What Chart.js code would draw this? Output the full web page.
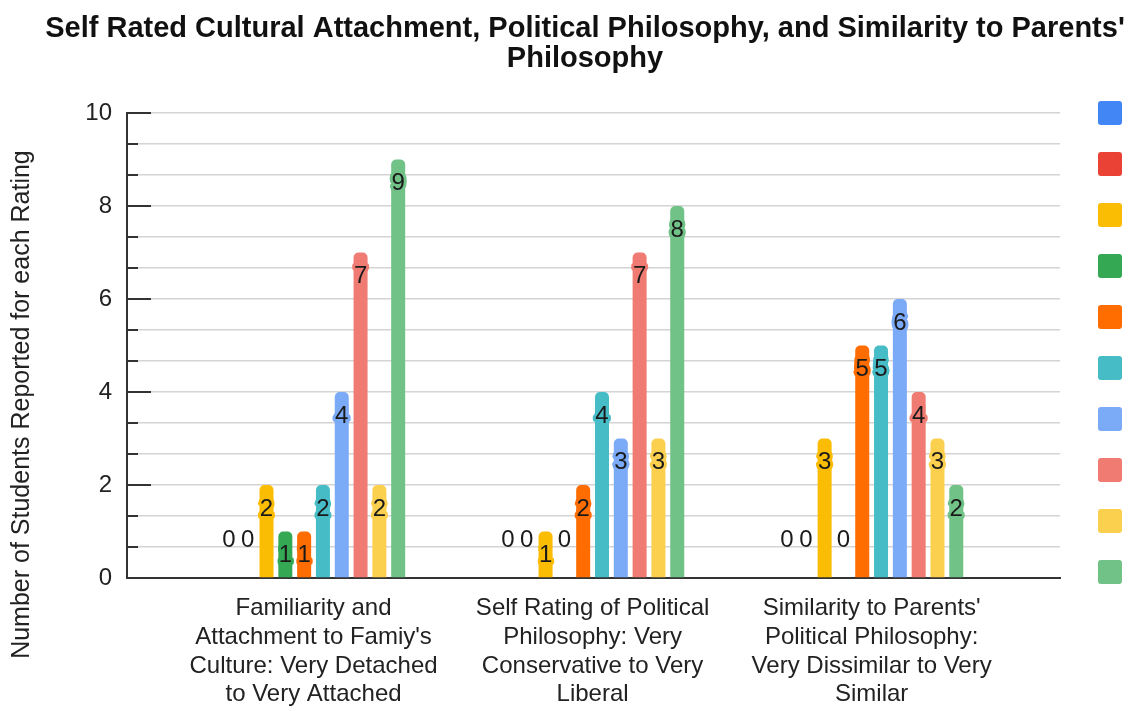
<!DOCTYPE html>
<html>
<head>
<meta charset="utf-8">
<script src="https://cdn.jsdelivr.net/npm/chart.js@4.4.1/dist/chart.umd.min.js"></script>
<style>
  html, body { margin: 0; padding: 0; background: #ffffff; }
  #wrap { width: 1143px; height: 711px; }
</style>
</head>
<body>
<div id="wrap"><canvas id="chart"></canvas></div>
<script>
// Survey questions (x-axis categories), each label split over four lines
const categories = [
  ["Familiarity and", "Attachment to Famiy's", "Culture: Very Detached", "to Very Attached"],
  ["Self Rating of Political", "Philosophy: Very", "Conservative to Very", "Liberal"],
  ["Similarity to Parents'", "Political Philosophy:", "Very Dissimilar to Very", "Similar"]
];

// Rating scale 1..10 (one series per rating)
const ratings = ["1", "2", "3", "4", "5", "6", "7", "8", "9", "10"];

// Number of students choosing each rating, per question
const cultureCounts   = [0, 0, 2, 1, 1, 2, 4, 7, 2, 9];
const politicalCounts = [0, 0, 1, 0, 2, 4, 3, 7, 3, 8];
const parentsCounts   = [0, 0, 3, 0, 5, 5, 6, 4, 3, 2];

const ratingColors = [
  "#4285F4", "#EA4335", "#FBBC04", "#34A853", "#FF6D01",
  "#46BDC6", "#7BAAF7", "#F07B72", "#FCD04F", "#71C287"
];

// Y axis: 0..10, labelled every 2, with two minor divisions in between
const yMin = 0;
const yMax = 10;
const yLabelStep = 2;
const yMinorPerLabel = 3;
const yTitle = 'Number of Students Reported for each Rating';

const FONT = 'Arial, "Liberation Sans", sans-serif';
const countsByQuestion = [cultureCounts, politicalCounts, parentsCounts];

const datasets = ratings.map((r, k) => ({
  label: r,
  data: countsByQuestion.map((counts, i) => ({ x: i, y: counts[k] })),
  backgroundColor: ratingColors[k],
  borderWidth: 0,
  borderRadius: 5,
  borderSkipped: 'start',
  categoryPercentage: 0.674,
  barPercentage: 0.745
}));

function isLabelTick(v) {
  const r = Math.round(v);
  return Math.abs(v - r) < 1e-6 && r % yLabelStep === 0;
}

// Short dark tick marks drawn inward from the value axis
const innerTicks = {
  id: 'innerTicks',
  beforeDatasetsDraw(chart) {
    const s = chart.scales.y;
    const left = chart.chartArea.left;
    const ctx = chart.ctx;
    ctx.save();
    ctx.strokeStyle = '#333333';
    ctx.lineWidth = 2;
    s.ticks.forEach(t => {
      const y = Math.round(s.getPixelForValue(t.value));
      const len = isLabelTick(t.value) ? 24 : 11;
      ctx.beginPath();
      ctx.moveTo(left, y);
      ctx.lineTo(left + len, y);
      ctx.stroke();
    });
    ctx.restore();
  }
};

// Value labels near the top of each bar, with a halo in the bar colour
const valueLabels = {
  id: 'valueLabels',
  afterDatasetsDraw(chart) {
    const ctx = chart.ctx;
    ctx.save();
    ctx.font = '24px ' + FONT;
    ctx.textAlign = 'center';
    ctx.textBaseline = 'middle';
    ctx.lineJoin = 'round';
    chart.data.datasets.forEach((ds, i) => {
      const meta = chart.getDatasetMeta(i);
      meta.data.forEach((bar, j) => {
        const v = ds.data[j].y;
        const txt = String(v);
        let y;
        if (v > 0) {
          y = bar.y + 24;
          ctx.strokeStyle = ds.backgroundColor;
          ctx.lineWidth = 6;
          ctx.strokeText(txt, bar.x, y);
        } else {
          y = bar.y - 38;
        }
        ctx.fillStyle = '#1a1a1a';
        ctx.fillText(txt, bar.x, y);
      });
    });
    ctx.restore();
  }
};

new Chart(document.getElementById('chart'), {
  type: 'bar',
  data: { datasets },
  plugins: [innerTicks, valueLabels],
  options: {
    responsive: true,
    maintainAspectRatio: false,
    animation: false,
    layout: { padding: { left: 32, right: 5, top: 0, bottom: 0 } },
    plugins: {
      title: {
        display: true,
        text: ["Self Rated Cultural Attachment, Political Philosophy, and Similarity to Parents'", "Philosophy"],
        color: '#111111',
        font: { family: FONT, size: 29, weight: 'bold', lineHeight: 30 / 29 },
        padding: { top: 14, bottom: 39 }
      },
      legend: {
        position: 'right',
        align: 'start',
        title: { display: true, text: ' ', font: { size: 10 }, padding: { top: 62, bottom: 0 } },
        labels: {
          boxWidth: 24,
          boxHeight: 24,
          padding: 27,
          useBorderRadius: true,
          borderRadius: 3,
          font: { family: FONT, size: 12 },
          generateLabels(chart) {
            return Chart.defaults.plugins.legend.labels.generateLabels(chart)
              .map(item => Object.assign(item, { text: '' }));
          }
        }
      },
      tooltip: { enabled: false }
    },
    scales: {
      x: {
        type: 'linear',
        offset: false,
        min: -0.6685,
        max: 2.675,
        afterBuildTicks(scale) {
          scale.ticks = categories.map((c, i) => ({ value: i }));
        },
        afterFit(scale) { scale.height = 133; },
        ticks: {
          callback: v => categories[v] || '',
          autoSkip: false,
          maxRotation: 0,
          padding: 8,
          color: '#222222',
          font: { family: FONT, size: 24, lineHeight: 1.2 }
        },
        grid: { display: false, offset: false },
        border: { display: true, color: '#333333', width: 2 }
      },
      y: {
        min: yMin,
        max: yMax,
        afterFit(scale) { scale.width = 95; },
        ticks: {
          stepSize: yLabelStep / yMinorPerLabel,
          autoSkip: false,
          callback: v => isLabelTick(v) ? String(Math.round(v)) : '',
          padding: 15,
          color: '#222222',
          font: { family: FONT, size: 24 }
        },
        grid: {
          drawTicks: false,
          color: ctx => (ctx.tick && ctx.tick.value === 0) ? 'rgba(0,0,0,0)' : '#d4d4d4',
          lineWidth: 1.5
        },
        border: { display: true, color: '#333333', width: 2 },
        title: {
          display: true,
          // trailing spaces push the centred title down toward the category labels
          text: yTitle + ' '.repeat(17),
          color: '#222222',
          font: { family: FONT, size: 25, lineHeight: 1.2 },
          padding: { top: -25, bottom: 0 }
        }
      },
      gap: {
        type: 'linear',
        position: 'right',
        display: true,
        ticks: { display: false },
        grid: { display: false },
        border: { display: false },
        afterFit(scale) { scale.width = 11; }
      }
    }
  }
});
</script>
</body>
</html>
